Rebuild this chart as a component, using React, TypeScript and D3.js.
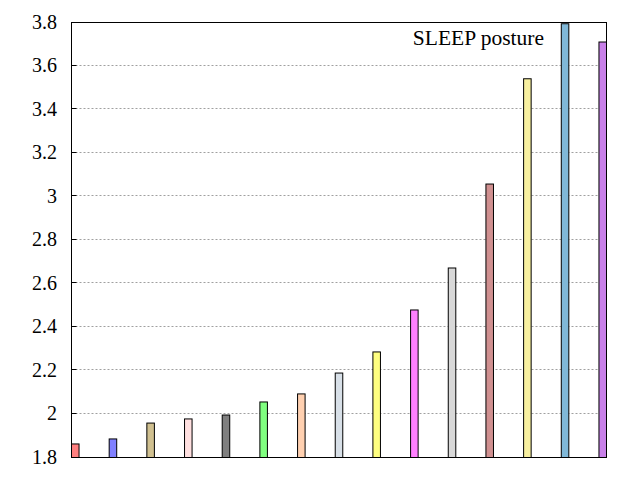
import React from "react";
import * as d3 from "d3";

const categories = ["1","2","3","4","5","6","7","8","9","10","11","12","13","14","15"];
const values = [1.86, 1.883, 1.956, 1.975, 1.993, 2.053, 2.09, 2.186, 2.283, 2.476, 2.669, 3.055, 3.539, 3.792, 3.708];
const colors = ["#ff8080","#8080ff","#d0c090","#ffe0e0","#808080","#80ff80","#ffd0b0","#d8e0e8","#ffff80","#ff80ff","#d8d8d8","#d09090","#f8f0a0","#80b8d8","#c880e8"];
const yTicks = [1.8, 2, 2.2, 2.4, 2.6, 2.8, 3, 3.2, 3.4, 3.6, 3.8];
const tickLabels = ["1.8","2","2.2","2.4","2.6","2.8","3","3.2","3.4","3.6","3.8"];
const title = "SLEEP posture";

export default function App() {
  const W = 640, H = 480;
  const left = 71.5, right = 606.5, top = 22, bottom = 457;
  const x = d3.scaleLinear().domain([-0.1, categories.length - 1 + 0.1]).range([left, right]);
  const y = d3.scaleLinear().domain([1.8, 3.8]).range([bottom, top]);
  const bw = 0.2;
  const textStyle = { fontFamily: "Liberation Serif", fontSize: "20px" };
  const titleStyle = { fontFamily: "Liberation Serif", fontSize: "21.5px" };
  const snap = (v: number) => Math.round(v - 0.5) + 0.5;
  return (
    <svg width={W} height={H} style={{ position: "absolute", left: 0, top: 0, background: "#fff" }}>
      <rect x={0} y={0} width={W} height={H} fill="#fff" />
      {yTicks.map((t, i) => {
        const yy = snap(y(t));
        return (
          <g key={"g" + i}>
            {i > 0 && i < yTicks.length - 1 && (
              <line x1={left} x2={right} y1={yy} y2={yy} stroke="#a0a0a0" strokeWidth={1} strokeDasharray="2,2" />
            )}
            <text x={57} y={y(t) + 6.5} textAnchor="end" style={textStyle} fill="#000">
              {tickLabels[i]}
            </text>
          </g>
        );
      })}
      {values.map((v, i) => {
        const x0 = x(i - bw / 2), x1 = x(i + bw / 2);
        const yt = y(v);
        return (
          <rect key={"b" + i} x={x0} y={yt} width={x1 - x0} height={bottom - yt + 0.5}
            fill={colors[i]} stroke="#000" strokeWidth={1} />
        );
      })}
      {yTicks.map((t, i) => {
        const yy = snap(y(t));
        return <line key={"t" + i} x1={left} x2={left + 5} y1={yy} y2={yy} stroke="#000" strokeWidth={1} />;
      })}
      <rect x={left} y={top + 0.5} width={right - left} height={bottom - top} fill="none" stroke="#000" strokeWidth={1} />
      <text x={544} y={44.5} textAnchor="end" style={titleStyle} fill="#000">{title}</text>
    </svg>
  );
}
